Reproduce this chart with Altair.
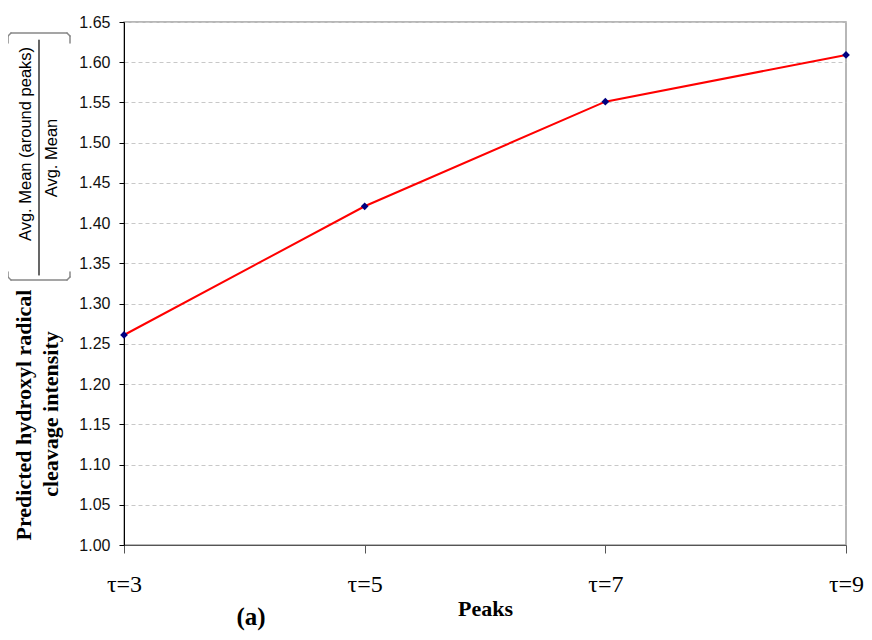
import altair as alt
import pandas as pd

peaks = ["τ=3", "τ=5", "τ=7", "τ=9"]
intensity = [1.261, 1.421, 1.551, 1.609]
y_ticks = [1.00, 1.05, 1.10, 1.15, 1.20, 1.25, 1.30, 1.35, 1.40, 1.45, 1.50, 1.55, 1.60, 1.65]

df = pd.DataFrame({"peak": peaks, "value": intensity})
one = pd.DataFrame({"k": [0]})

PAD_L, PAD_T, PAD_R, PAD_B = 116, 14, 18, 86
W, H = 722, 523
OX, OY = PAD_L + 8, PAD_T + 8  # page position of plot origin
SERIF = "Liberation Serif"
SANS = "Liberation Sans"

x_enc = alt.X(
    "peak:N",
    sort=peaks,
    scale=alt.Scale(type="point", padding=0),
    axis=alt.Axis(
        title="Peaks",
        titleFont=SERIF,
        titleFontSize=22,
        titleFontWeight="bold",
        titleColor="#000",
        titleY=70,
        titleBaseline="alphabetic",
        labelFont=SERIF,
        labelFontSize=24,
        labelColor="#000",
        labelPadding=19,
        labelAngle=0,
        tickSize=8,
        tickColor="#555",
        domainColor="#555",
        grid=False,
    ),
)
y_enc = alt.Y(
    "value:Q",
    scale=alt.Scale(domain=[1.0, 1.65], nice=False, zero=False),
    axis=alt.Axis(
        title=None,
        values=y_ticks,
        format=".2f",
        labelFont=SANS,
        labelFontSize=16,
        labelColor="#111",
        labelPadding=9,
        tickSize=5,
        tickColor="#000",
        domainColor="#000",
        grid=True,
        gridColor="#c8c8c8",
        gridDash=[4, 3],
        gridWidth=1,
    ),
)

base = alt.Chart(df)
line = base.mark_line(color="#ff0000", strokeWidth=2).encode(x=x_enc, y=y_enc)
pts = base.mark_point(shape="diamond", filled=True, color="#000080", size=60, opacity=1).encode(
    x=alt.X("peak:N", sort=peaks), y="value:Q"
)

def txt(s, px, py, font, size, weight="normal", angle=270, baseline="middle"):
    return alt.Chart(one).mark_text(
        text=s, font=font, fontSize=size, fontWeight=weight, angle=angle,
        align="center", baseline=baseline, color="#000"
    ).encode(x=alt.value(px - OX), y=alt.value(py - OY))

def seg(x1, y1, x2, y2, color="#888", w=1.5):
    return alt.Chart(one).mark_rule(color=color, strokeWidth=w, strokeCap="round").encode(
        x=alt.value(x1 - OX), x2=alt.value(x2 - OX), y=alt.value(y1 - OY), y2=alt.value(y2 - OY)
    )

deco = [
    txt("Predicted hydroxyl radical", 24, 415, SERIF, 22, "bold"),
    txt("cleavage intensity", 51, 414, SERIF, 22, "bold"),
    txt("Avg. Mean (around peaks)", 26, 144, SANS, 16.5),
    txt("Avg. Mean", 52, 158, SANS, 16.5),
    seg(39, 40, 39, 275, color="#000", w=1.2),
    # top bracket
    seg(11, 33, 67, 33),
    seg(8, 43, 8, 36),
    seg(8, 36, 11, 33),
    seg(70, 43, 70, 36),
    seg(70, 36, 67, 33),
    # bottom bracket
    seg(11, 280, 67, 280),
    seg(8, 272, 8, 277),
    seg(8, 277, 11, 280),
    seg(70, 272, 70, 277),
    seg(70, 277, 67, 280),
    txt("(a)", 251, 625, SERIF, 25, "bold", angle=0, baseline="alphabetic"),
]

chart = alt.layer(line, pts, *deco).properties(
    width=W,
    height=H,
    autosize=alt.AutoSizeParams(type="none"),
    padding={"left": PAD_L, "top": PAD_T, "right": PAD_R, "bottom": PAD_B},
).configure_view(stroke="#a0a0a0", strokeWidth=1.5)

chart.save("out.html", embed_options={"renderer": "svg", "actions": False})
